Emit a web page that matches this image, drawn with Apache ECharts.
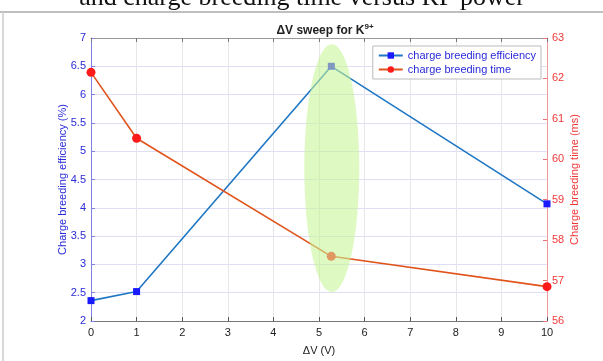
<!DOCTYPE html>
<html>
<head>
<meta charset="utf-8">
<script src="https://cdn.jsdelivr.net/npm/echarts@6/dist/echarts.min.js"></script>
<style>
  html, body { margin: 0; padding: 0; background: #fff; }
  #chart { width: 603px; height: 361px; }
</style>
</head>
<body>
<div id="chart"></div>
<script>
const deltaV = [0, 1, 5.27, 10]
const efficiency = [2.36, 2.52, 6.5, 4.07]
const breedTime = [62.15, 60.52, 57.6, 56.85]
const highlight = [5.28, 4.7]

const blueText = '#2a2ad8'
const redText = '#f03838'

let chart = echarts.init(document.getElementById('chart'))

let option = {
  animation: false,
  backgroundColor: '#fff',
  graphic: [
    {
      type: 'text',
      style: {
        text: 'and charge breeding time versus RF power',
        x: 302, y: 11,
        align: 'center',
        verticalAlign: 'bottom',
        font: '26px "Liberation Serif"',
        fill: '#111'
      }
    },
    { type: 'rect', shape: { x: 0, y: 12, width: 603, height: 349 }, style: { fill: '#fff' }, z: -1 },
    { type: 'line', shape: { x1: 0, y1: 12, x2: 603, y2: 12 }, style: { stroke: '#aaa', lineWidth: 1.5 } },
    { type: 'line', shape: { x1: 3, y1: 12, x2: 3, y2: 361 }, style: { stroke: '#ccc', lineWidth: 1.5 } }
  ],
  title: {
    text: '{a|ΔV sweep for K}{s|9+}',
    left: 320,
    textAlign: 'center',
    top: 18,
    textStyle: {
      rich: {
        a: { fontFamily: 'Liberation Sans', fontWeight: 'bold', fontSize: 12, color: '#222' },
        s: { fontFamily: 'Liberation Sans', fontWeight: 'bold', fontSize: 8, color: '#222', verticalAlign: 'top', padding: [0, 0, 8, 0] }
      }
    }
  },
  legend: {
    data: ['charge breeding efficiency', 'charge breeding time'],
    orient: 'vertical',
    right: 62,
    top: 46,
    itemWidth: 24,
    itemHeight: 8,
    itemGap: 3,
    padding: [4, 5, 4, 5],
    borderColor: '#bbb',
    borderWidth: 1,
    backgroundColor: '#fff',
    textStyle: { color: blueText, fontSize: 11, fontFamily: 'Liberation Sans' }
  },
  grid: { left: 91, right: 56, top: 38, bottom: 34 },
  xAxis: [
    {
      type: 'value',
      min: 0, max: 10, interval: 1,
      name: 'ΔV (V)',
      nameLocation: 'middle',
      nameGap: 24,
      nameTextStyle: { color: '#222', fontSize: 11, fontFamily: 'Liberation Sans' },
      axisLine: { onZero: false, lineStyle: { color: '#777' } },
      axisTick: { inside: true, length: 4, lineStyle: { color: '#555' } },
      axisLabel: { color: '#222', fontSize: 11, fontFamily: 'Liberation Sans', margin: 6 },
      splitLine: { show: true, lineStyle: { color: '#e6e6ea' } }
    },
    {
      type: 'value',
      position: 'top',
      min: 0, max: 10, interval: 1,
      axisLine: { show: true, onZero: false, lineStyle: { color: '#999' } },
      axisTick: { inside: true, length: 4, lineStyle: { color: '#777' } },
      axisLabel: { show: false },
      splitLine: { show: false }
    }
  ],
  yAxis: [
    {
      type: 'value',
      position: 'left',
      min: 2, max: 7, interval: 0.5,
      name: 'Charge breeding efficiency (%)',
      nameLocation: 'middle',
      nameGap: 23,
      nameMoveOverlap: false,
      nameTextStyle: { color: blueText, fontSize: 11, fontFamily: 'Liberation Sans' },
      axisLine: { show: true, onZero: false, lineStyle: { color: '#7f7fe6' } },
      axisTick: { show: true, inside: true, length: 4, lineStyle: { color: '#7f7fe6' } },
      axisLabel: { color: blueText, fontSize: 11, fontFamily: 'Liberation Sans', margin: 5 },
      splitLine: { show: true, lineStyle: { color: '#dedef6' } }
    },
    {
      type: 'value',
      position: 'right',
      min: 56, max: 63, interval: 1,
      name: 'Charge breeding time (ms)',
      nameLocation: 'middle',
      nameGap: 22,
      nameRotate: 90,
      nameMoveOverlap: false,
      nameTextStyle: { color: redText, fontSize: 11, fontFamily: 'Liberation Sans' },
      axisLine: { show: true, onZero: false, lineStyle: { color: '#f29a9a' } },
      axisTick: { show: true, inside: true, length: 4, lineStyle: { color: '#f07070' } },
      axisLabel: { color: redText, fontSize: 11, fontFamily: 'Liberation Sans', margin: 5 },
      splitLine: { show: false }
    }
  ],
  series: [
    {
      name: 'charge breeding efficiency',
      type: 'line',
      yAxisIndex: 0,
      data: deltaV.map((x, i) => [x, efficiency[i]]),
      symbol: 'rect',
      symbolSize: 7,
      lineStyle: { width: 1.6, color: '#1f77c4' },
      itemStyle: { color: '#1a1aff' },
      z: 3
    },
    {
      name: 'charge breeding time',
      type: 'line',
      yAxisIndex: 1,
      data: deltaV.map((x, i) => [x, breedTime[i]]),
      symbol: 'circle',
      symbolSize: 9,
      lineStyle: { width: 1.6, color: '#e0541c' },
      itemStyle: { color: '#ff1a1a' },
      z: 3
    },
    {
      name: 'highlight',
      type: 'scatter',
      yAxisIndex: 0,
      data: [highlight],
      symbol: 'circle',
      symbolSize: [55, 248],
      itemStyle: { color: 'rgba(200,245,150,0.72)' },
      silent: true,
      z: 5
    }
  ]
}

chart.setOption(option)
</script>
</body>
</html>
